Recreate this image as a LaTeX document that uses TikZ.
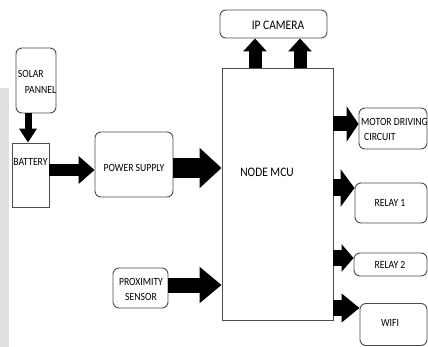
\documentclass[tikz,border=0pt]{standalone}
\usepackage{fontspec}
\setmainfont{Carlito}[FakeStretch=0.88]
\usetikzlibrary{arrows.meta}
\tikzset{
  rbox/.style={draw=black!70, line width=0.9pt, rounded corners=6pt, inner sep=0pt, fill=white},
  sbox/.style={draw=black!70, line width=0.9pt, inner sep=0pt, fill=white},
  lbl/.style={font=\fontsize{11}{13}\selectfont, text=black, inner sep=0pt, align=center},
  big/.style={font=\fontsize{13}{15}\selectfont, text=black, inner sep=0pt},
  blk/.style n args={3}{draw=black, line width=#1, -{Triangle[width=#2, length=#3]}}
}
\begin{document}
\begin{tikzpicture}[x=1pt,y=-1pt]
\useasboundingbox (0,0) rectangle (428,347);
\fill[black!12] (0,88) rectangle (9,347);
% boxes
\node[rbox, minimum width=40pt, minimum height=65pt] (solar) at (36,80.5) {};
\node[lbl, align=left] (solartxt) at (37,82) {SOLAR\\[3pt]\hspace*{7pt}PANNEL};
\node[sbox, minimum width=37pt, minimum height=64pt] (battery) at (30.5,175) {};
\node[lbl] (battxt) at (30.5,162) {BATTERY};
\node[rbox, minimum width=78pt, minimum height=65pt] (ps) at (134,164.5) {};
\node[lbl] (pstxt) at (134,168) {POWER SUPPLY};
\node[sbox, minimum width=111pt, minimum height=252pt] (mcu) at (277.5,194) {};
\node[big] (mcutxt) at (267,172) {NODE MCU};
\node[rbox, minimum width=107pt, minimum height=28pt] (cam) at (273.5,24) {};
\node[big] (camtxt) at (278,25) {IP CAMERA};
\node[rbox, minimum width=68pt, minimum height=41pt] (motor) at (393,128.5) {};
\node[lbl, anchor=west, align=left] (motortxt) at (361,129) {MOTOR DRIVING\\[2pt]\hspace*{3pt}CIRCUIT};
\node[rbox, minimum width=72pt, minimum height=40pt] (relay1) at (391,203) {};
\node[lbl] (r1txt) at (390,203) {RELAY 1};
\node[rbox, minimum width=73pt, minimum height=23pt] (relay2) at (390.5,264.5) {};
\node[lbl] (r2txt) at (390,265) {RELAY 2};
\node[rbox, minimum width=67pt, minimum height=42pt] (wifi) at (393.5,324.5) {};
\node[lbl] (wifitxt) at (390,323) {WIFI};
\node[rbox, minimum width=55pt, minimum height=40pt] (prox) at (140.5,288) {};
\node[lbl] (proxtxt) at (141,289) {PROXIMITY\\[2pt]SENSOR};
% free ends
\coordinate (c1) at (255,68);
\coordinate (c2) at (300,68);
\coordinate (m1) at (333,124);
\coordinate (m2) at (333,188);
\coordinate (m3) at (333,258);
\coordinate (m4) at (333,308);
% arrows
\draw[blk={7pt}{17pt}{14pt}] (solar.south -| 28,0) -- (battery.north -| 28,0);
\draw[blk={12pt}{27pt}{16pt}] (battery.east |- 0,170) -- (ps.west |- 0,170);
\draw[blk={20pt}{39pt}{22pt}] (ps.east |- 0,168) -- (mcu.west |- 0,168);
\draw[blk={15pt}{35pt}{22pt}] (prox.east |- 0,285) -- (mcu.west |- 0,285);
\draw[blk={13pt}{23pt}{13pt}] (c1) -- (cam.south -| c1);
\draw[blk={13pt}{23pt}{13pt}] (c2) -- (cam.south -| c2);
\draw[blk={15pt}{35pt}{12pt}] (m1) -- (motor.west |- m1);
\draw[blk={17pt}{37pt}{14pt}] (m2) -- (relay1.west |- m2);
\draw[blk={15pt}{27pt}{12pt}] (m3) -- (relay2.west |- m3);
\draw[blk={16pt}{28pt}{18pt}] (m4) -- (wifi.west |- m4);
\end{tikzpicture}
\end{document}
